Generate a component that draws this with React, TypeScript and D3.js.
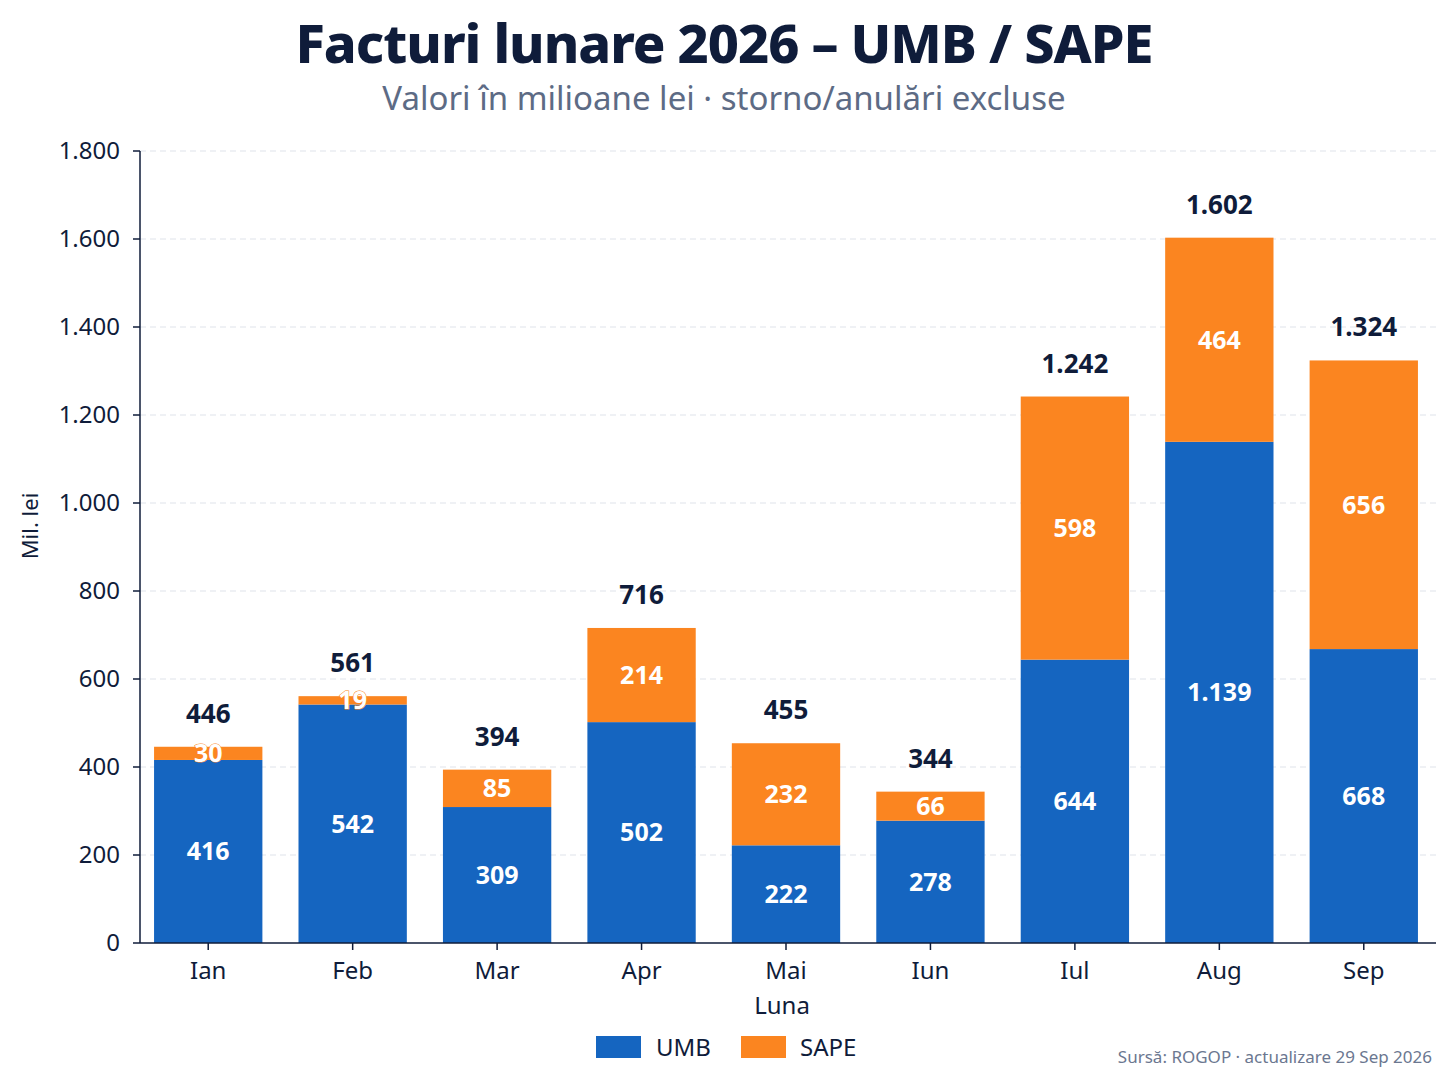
import * as d3 from 'd3';
import React from 'react';

const months = ['Ian', 'Feb', 'Mar', 'Apr', 'Mai', 'Iun', 'Iul', 'Aug', 'Sep'];
const umb = [416, 542, 309, 502, 222, 278, 644, 1139, 668];
const sape = [30, 19, 85, 214, 232, 66, 598, 464, 656];
const totals = [446, 561, 394, 716, 455, 344, 1242, 1602, 1324];
const yTicks = [0, 200, 400, 600, 800, 1000, 1200, 1400, 1600, 1800];

const W = 1448;
const H = 1086;
const FONT = '"Noto Sans", "Open Sans", sans-serif';
const BLUE = '#1565c0';
const ORANGE = '#fb8520';
const NAVY = '#0f1c3a';

const fmt = (v: number) => d3.format(',')(v).replace(/,/g, '.');

export default function App() {
  const x = d3.scaleBand<string>().domain(months).range([136, 1436]).paddingInner(0.25).paddingOuter(0.125);
  const y = d3.scaleLinear().domain([0, 1800]).range([943, 151]);
  const bw = x.bandwidth();

  return (
    <svg width={W} height={H} style={{ position: 'absolute', left: 0, top: 0, background: '#fff' }} fontFamily={FONT}>
      <text x={724} y={63} textAnchor="middle" fontSize={54} fontWeight={800} fill={NAVY} letterSpacing={-1}>
        Facturi lunare 2026 – UMB / SAPE
      </text>
      <text x={724} y={110} textAnchor="middle" fontSize={33} fill="#5d6b85">
        Valori în milioane lei · storno/anulări excluse
      </text>

      {/* grid */}
      {yTicks.map((t) => (
        <g key={t}>
          {t > 0 && (
            <line x1={140} x2={1436} y1={y(t)} y2={y(t)} stroke="#dfe3ea" strokeDasharray="6 4" strokeWidth={1} />
          )}
          <line x1={133} x2={140} y1={y(t)} y2={y(t)} stroke={NAVY} strokeWidth={1.5} />
          <text x={120} y={y(t)} dy="0.35em" textAnchor="end" fontSize={24} fill={NAVY}>
            {fmt(t)}
          </text>
        </g>
      ))}

      {/* bars */}
      {months.map((m, i) => {
        const x0 = x(m)!;
        const cx = x0 + bw / 2;
        const yU = y(umb[i]);
        const yS = y(umb[i] + sape[i]);
        return (
          <g key={m}>
            <rect x={x0} y={yU} width={bw} height={y(0) - yU} fill={BLUE} />
            <rect x={x0} y={yS} width={bw} height={yU - yS} fill={ORANGE} />
            <text x={cx} y={(yU + y(0)) / 2} dy="0.35em" textAnchor="middle" fontSize={25} fontWeight={700} fill="#fff">
              {fmt(umb[i])}
            </text>
            <text
              x={cx}
              y={(yS + yU) / 2}
              dy="0.35em"
              textAnchor="middle"
              fontSize={25}
              fontWeight={700}
              fill="#fff"
              stroke={ORANGE}
              strokeWidth={1}
              paintOrder="stroke"
            >
              {fmt(sape[i])}
            </text>
            <text x={cx} y={yS - 24} textAnchor="middle" fontSize={26} fontWeight={700} fill={NAVY}>
              {fmt(totals[i])}
            </text>
            <line x1={cx} x2={cx} y1={943} y2={950} stroke={NAVY} strokeWidth={1.5} />
            <text x={cx} y={979} textAnchor="middle" fontSize={24} fill={NAVY}>
              {m}
            </text>
          </g>
        );
      })}

      {/* axes */}
      <line x1={140} x2={140} y1={151} y2={943} stroke={NAVY} strokeWidth={1.5} />
      <line x1={140} x2={1436} y1={943} y2={943} stroke={NAVY} strokeWidth={1.5} />

      <text x={782} y={1014} textAnchor="middle" fontSize={24} fill={NAVY}>
        Luna
      </text>
      <text transform="translate(38,526) rotate(-90)" textAnchor="middle" fontSize={22} fill={NAVY}>
        Mil. lei
      </text>

      {/* legend */}
      <rect x={596} y={1036} width={45} height={22} fill={BLUE} />
      <text x={656} y={1056} fontSize={24} fill={NAVY}>UMB</text>
      <rect x={741} y={1036} width={45} height={22} fill={ORANGE} />
      <text x={800} y={1056} fontSize={24} fill={NAVY}>SAPE</text>

      <text x={1432} y={1063} textAnchor="end" fontSize={17} fill="#6b7790">
        Sursă: ROGOP · actualizare 29 Sep 2026
      </text>
    </svg>
  );
}
